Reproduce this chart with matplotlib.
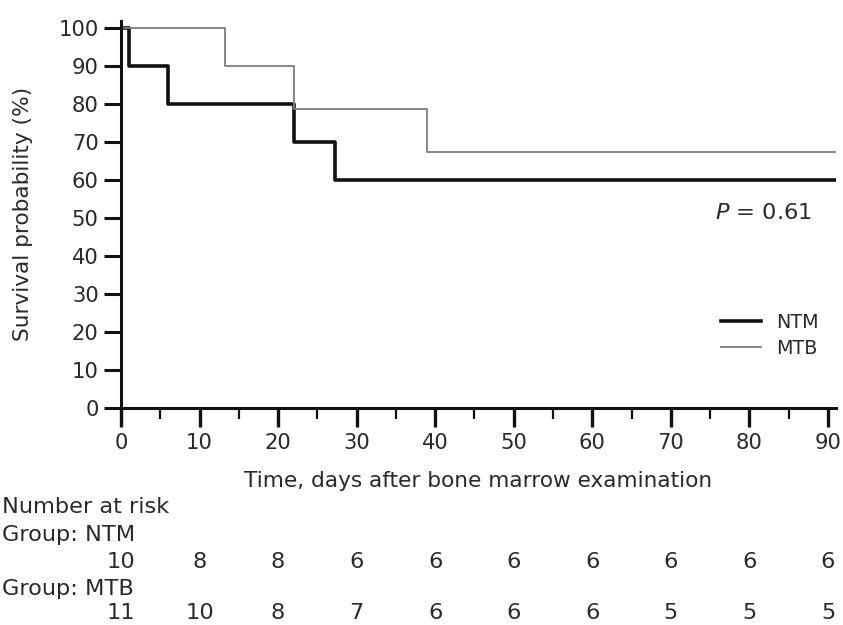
import matplotlib
matplotlib.use('Agg')
import matplotlib.pyplot as plt

# Kaplan-Meier step values
ntm_time = [0, 1, 6, 22, 27.3, 91]
ntm_surv = [100, 90, 80, 70, 60, 60]
mtb_time = [0, 13.2, 22, 39, 91]
mtb_surv = [100, 90, 78.75, 67.5, 67.5]

risk_times = [0, 10, 20, 30, 40, 50, 60, 70, 80, 90]
ntm_risk = [10, 8, 8, 6, 6, 6, 6, 6, 6, 6]
mtb_risk = [11, 10, 8, 7, 6, 6, 6, 5, 5, 5]

txt = '#2a2a2a'
plt.rcParams['font.family'] = ['DejaVu Sans']
fs_tick = 15.2
fs_label = 15.6
fs_table = 16.2

fig = plt.figure(figsize=(8.43, 6.25), dpi=100)
ax = fig.add_axes([0.1435, 0.3472, 0.848, 0.620])

ax.step(ntm_time, ntm_surv, where='post', color='#111111', lw=2.6, label='NTM')
ax.step(mtb_time, mtb_surv, where='post', color='#7d7d7d', lw=1.3, label='MTB')

ax.set_xlim(0, 91)
ax.set_ylim(0, 102)
ax.set_yticks(range(0, 101, 10))
ax.set_xticks(range(0, 91, 10))
ax.set_xticks(range(5, 91, 10), minor=True)
for s in ['top', 'right']:
    ax.spines[s].set_visible(False)
for s in ['left', 'bottom']:
    ax.spines[s].set_linewidth(2.2)
    ax.spines[s].set_color('#111111')
ax.tick_params(axis='y', length=12, width=2.2, direction='out', colors='#111111',
               labelcolor=txt, labelsize=fs_tick, pad=4)
ax.tick_params(axis='x', which='major', length=14, width=2.4, direction='out',
               colors='#111111', labelcolor=txt, labelsize=fs_tick, pad=4)
ax.tick_params(axis='x', which='minor', length=8, width=1.6, direction='out',
               colors='#111111')

ax.set_ylabel('Survival probability (%)', color=txt, fontsize=fs_label, labelpad=18)
ax.set_xlabel('Time, days after bone marrow examination', color=txt,
              fontsize=fs_label, labelpad=13)

ax.text(75.6, 51.3, '$P$ = 0.61', color=txt, fontsize=fs_table, ha='left', va='center')

ax.legend(loc='center left', bbox_to_anchor=(0.828, 0.188), frameon=False,
          fontsize=13.8, handlelength=2.1, handletextpad=0.8, labelspacing=0.35,
          labelcolor=txt, borderaxespad=0)

# number at risk table
fig.text(0.002, 1 - 507 / 625, 'Number at risk', color=txt, fontsize=fs_table, va='center')
fig.text(0.002, 1 - 535 / 625, 'Group: NTM', color=txt, fontsize=fs_table, va='center')
fig.text(0.002, 1 - 589 / 625, 'Group: MTB', color=txt, fontsize=fs_table, va='center')
for t, a, b in zip(risk_times, ntm_risk, mtb_risk):
    x = ax.transData.transform((t, 0))[0] / fig.bbox.width
    fig.text(x, 1 - 562 / 625, str(a), color=txt, fontsize=fs_table, ha='center', va='center')
    fig.text(x, 1 - 613 / 625, str(b), color=txt, fontsize=fs_table, ha='center', va='center')

fig.savefig('out.png', dpi=100)
